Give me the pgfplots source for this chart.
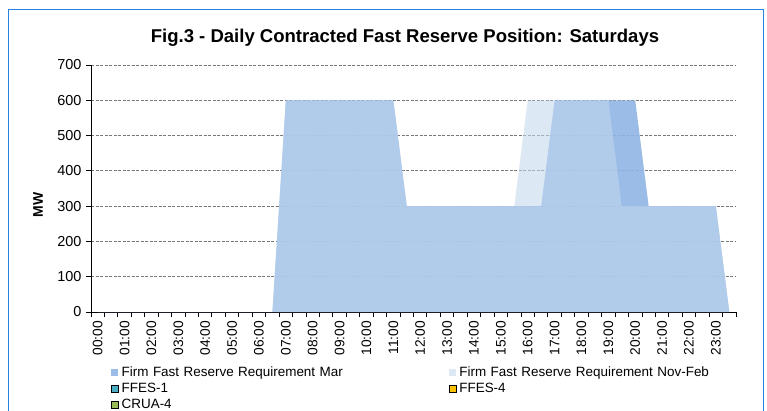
\documentclass[border=0pt]{standalone}
\usepackage{fontspec}
\setmainfont{Liberation Sans}
\usepackage{pgfplots}
\pgfplotsset{compat=1.18}
\definecolor{marfill}{RGB}{144,181,227}
\definecolor{novfill}{RGB}{196,215,238}
\definecolor{framec}{RGB}{40,130,225}
\definecolor{gridc}{RGB}{120,120,120}
\definecolor{ffesone}{RGB}{75,172,198}
\definecolor{ffesfour}{RGB}{255,192,0}
\definecolor{cruafour}{RGB}{155,187,89}

\pgfplotstableread{
x mar nov
0 0 0
1 0 0
2 0 0
3 0 0
4 0 0
5 0 0
6 0 0
7 0 0
8 0 0
9 0 0
10 0 0
11 0 0
12 0 0
13 0 0
14 600 600
15 600 600
16 600 600
17 600 600
18 600 600
19 600 600
20 600 600
21 600 600
22 600 600
23 300 300
24 300 300
25 300 300
26 300 300
27 300 300
28 300 300
29 300 300
30 300 300
31 300 300
32 300 600
33 300 600
34 600 600
35 600 600
36 600 600
37 600 600
38 600 600
39 600 300
40 600 300
41 300 300
42 300 300
43 300 300
44 300 300
45 300 300
46 300 300
47 0 0
}\datatable

\begin{document}
\begin{tikzpicture}[x=1bp,y=1bp]
\path[use as bounding box] (0,0) rectangle (767,410);
\draw[framec, line width=1.5bp] (8.5,-5) -- (8.5,400.5) -- (763.5,400.5) -- (763.5,-5);
\begin{axis}[
  at={(91bp,98bp)}, anchor=south west,
  scale only axis, width=645bp, height=247bp,
  xmin=-0.5, xmax=47.5, ymin=0, ymax=700,
  axis x line*=bottom, axis y line*=left,
  axis line style={black, line width=0.9bp},
  tick align=outside,
  no markers,
  xtick={0,2,...,46},
  xticklabels={00:00,01:00,02:00,03:00,04:00,05:00,06:00,07:00,08:00,09:00,10:00,11:00,12:00,13:00,14:00,15:00,16:00,17:00,18:00,19:00,20:00,21:00,22:00,23:00},
  major x tick style={draw=none},
  minor xtick={-0.5,0.5,...,47.5},
  minor tick length=4.5bp,
  major tick length=5bp,
  tick style={black, line width=0.9bp},
  ytick={0,100,...,700},
  ymajorgrids,
  grid style={gridc, dash pattern=on 3bp off 1.5bp, line width=0.75bp},
  /pgf/number format/assume math mode=true,
  yticklabel style={font=\fontsize{14.5}{16}\selectfont, xshift=-1bp},
  xticklabel style={font=\fontsize{13.8}{16}\selectfont, rotate=90, anchor=east, xshift=-0.5bp},
  legend image code/.code={\path[#1] (0bp,-3.5bp) rectangle (7bp,3.5bp);},
  legend columns=2,
  legend cell align=left,
  legend style={at={(axis description cs:0.026,-0.205)}, anchor=north west,
    draw=none, fill=none, font=\fontsize{13.5}{15}\selectfont,
    column sep=0bp,
    nodes={text width=324bp, inner xsep=3bp, inner ysep=1.5bp, text height=10bp, text depth=3bp}},
]
\addplot[fill=marfill, fill opacity=0.9, draw=none] table[x=x, y=mar] {\datatable} \closedcycle;
\addlegendentry{Firm Fast Reserve Requirement Mar}
\addplot[fill=novfill, fill opacity=0.57, draw=none] table[x=x, y=nov] {\datatable} \closedcycle;
\addlegendentry{Firm Fast Reserve Requirement Nov-Feb}
\addlegendimage{fill=ffesone, draw=black, line width=0.7bp}
\addlegendentry{FFES-1}
\addlegendimage{fill=ffesfour, draw=black, line width=0.7bp}
\addlegendentry{FFES-4}
\addlegendimage{fill=cruafour, draw=black, line width=0.7bp}
\addlegendentry{CRUA-4}
\end{axis}
\node[font=\fontsize{18.6}{22}\selectfont\bfseries] at (405,372) {Fig.3 - Daily Contracted Fast Reserve Position: Saturdays};
\node[rotate=90, font=\fontsize{14}{16}\selectfont\bfseries] at (38,205) {MW};
\end{tikzpicture}
\end{document}
